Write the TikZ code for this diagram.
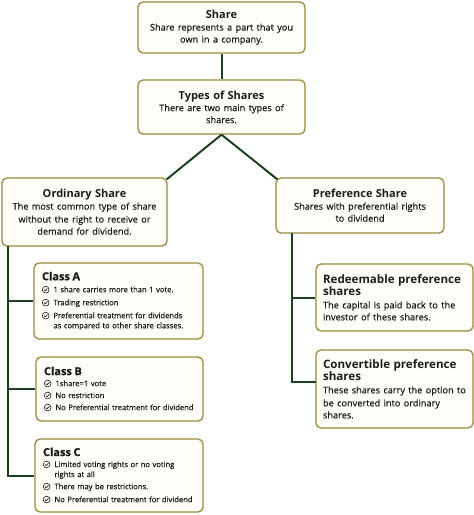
\documentclass[tikz,border=0pt]{standalone}
\usepackage{fontspec}
\setmainfont{Open Sans}
\newfontfamily\medfont{Open Sans}[FakeBold=0.5]
\usetikzlibrary{calc}
\definecolor{bord}{HTML}{9A8A3A}
\definecolor{conn}{HTML}{1E3F20}
\definecolor{boxfill}{HTML}{FFFEF8}
\definecolor{txt}{HTML}{1C1C1C}
\newcommand\ckmark{\tikz[baseline=-2.6pt,x=1pt,y=1pt,sharp corners]{\draw[txt,line width=0.6pt,sharp corners] (0,0) circle (3.4); \draw[txt,line width=0.7pt,sharp corners,line cap=round,line join=round] (-1.6,-0.1) -- (-0.5,-1.2) -- (1.6,1.1);}}
\newcommand\itm[1]{\makebox[11.5pt][l]{\ckmark}\parbox[t]{142pt}{\raggedright #1}}
\newcommand\ttl[1]{{\bfseries\fontsize{11}{13}\selectfont #1}}
\newcommand\bodyfont{\medfont\fontsize{9.2}{13}\selectfont}
\newcommand\smallfont{\medfont\fontsize{7.6}{10}\selectfont}
\tikzset{
  box/.style={draw=bord, line width=1.3pt, fill=boxfill, rounded corners=5pt, inner sep=0pt, text=txt},
  conline/.style={draw=conn, line width=2pt}
}
\begin{document}
\begin{tikzpicture}[x=1pt,y=-1pt]
\useasboundingbox (0,0) rectangle (474,515);
% boxes
\node[box, minimum width=167pt, minimum height=51pt, text width=160pt, align=center] (share) at (221.5,27.5)
  {\ttl{Share}\\[-1pt] {\bodyfont Share represents a part that you\\ own in a company.}};
\node[box, minimum width=167pt, minimum height=54pt, text width=160pt, align=center] (types) at (221.5,107)
  {\ttl{Types of Shares}\\[-1pt] {\bodyfont There are two main types of\\ shares.}};
\node[box, minimum width=165pt, minimum height=68pt, text width=158pt, align=center] (ord) at (84.5,212)
  {\ttl{Ordinary Share}\\[-1pt] {\bodyfont The most common type of share\\ without the right to receive or\\ demand for dividend.}};
\node[box, minimum width=168pt, minimum height=55pt, text width=160pt, align=center] (pref) at (360,205.5)
  {\ttl{Preference Share}\\[-1pt] {\bodyfont Shares with preferential rights\\ to dividend}};
% class boxes
\node[box, minimum width=169pt, minimum height=76pt, text width=153pt, align=left, font=\smallfont] (ca) at (118.5,301)
  {\ttl{Class A}\\[2pt]
   \itm{1 share carries more than 1 vote.}\\[3pt]
   \itm{Trading restriction}\\[3pt]
   \itm{Preferential treatment for dividends\\ as compared to other share classes.}};
\node[box, minimum width=167pt, minimum height=64pt, text width=151pt, align=left, font=\smallfont] (cb) at (119.5,389)
  {\ttl{Class B}\\[1pt]
   \itm{1share=1 vote}\\[2pt]
   \itm{No restriction}\\[2pt]
   \itm{No Preferential treatment for dividend}};
\node[box, minimum width=168pt, minimum height=73pt, text width=152pt, align=left, font=\smallfont] (cc) at (119,475.5)
  {\ttl{Class C}\\[1pt]
   \itm{Limited voting rights or no voting\\ rights at all}\\[3pt]
   \itm{There may be restrictions.}\\[3pt]
   \itm{No Preferential treatment for dividend}};
% preference sub boxes
\node[box, minimum width=157pt, minimum height=67pt, text width=143pt, align=left] (red) at (394.5,297.5)
  {{\bfseries\fontsize{11.6}{12.5}\selectfont Redeemable preference\\ shares}\par
   {\bodyfont The capital is paid back to the\\ investor of these shares.}};
\node[box, minimum width=157pt, minimum height=78pt, text width=143pt, align=left] (conv) at (394.5,389)
  {{\bfseries\fontsize{11.6}{12.5}\selectfont Convertible preference\\ shares}\par
   {\bodyfont These shares carry the option to\\ be converted into ordinary\\ shares.}};
% connectors
\draw[conline] (share.south) -- (types.north);
\draw[conline] (types.south) -- ([shift={(-1,2)}]ord.north east);
\draw[conline] (types.south) -- ([shift={(2,2)}]pref.north west);
\coordinate (lt) at (8,246);
\draw[conline] (lt) |- (cc.west);
\draw[conline] (ca.west) -- (ca.west -| lt);
\draw[conline] (cb.west) -- (cb.west -| lt);
\coordinate (rt) at (292,233);
\coordinate (rb) at (316,382);
\draw[conline] (rt) |- (rb);
\draw[conline] (red.west) -- (red.west -| rt);
\end{tikzpicture}
\end{document}
